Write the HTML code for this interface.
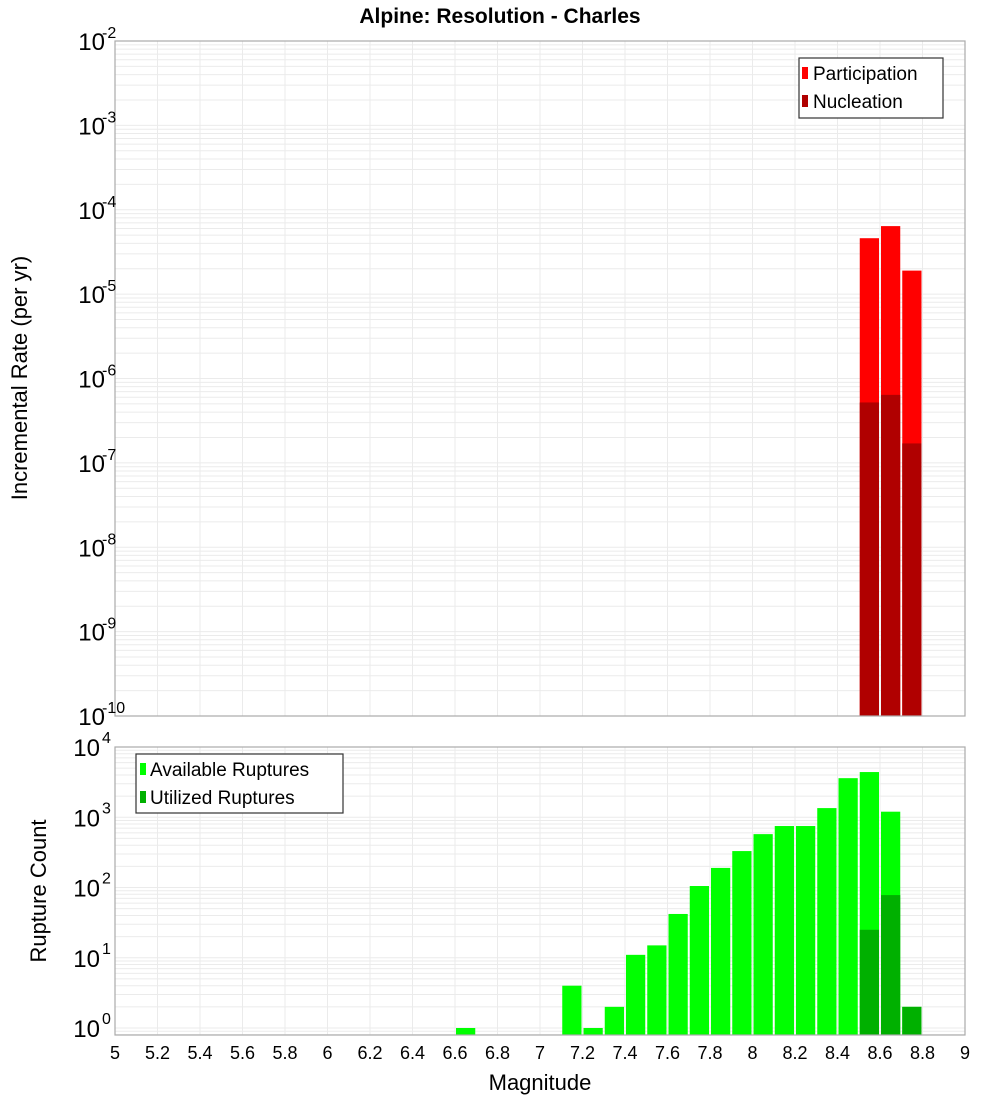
<!DOCTYPE html>
<html><head><meta charset="utf-8"><style>
html,body{margin:0;padding:0;background:#fff;}
svg{display:block;font-family:"Liberation Sans","DejaVu Sans",sans-serif;}
</style></head><body>
<svg id="chart" width="1000" height="1100" viewBox="0 0 1000 1100">
<text x="500" y="23" text-anchor="middle" font-size="21" font-weight="bold">Alpine: Resolution - Charles</text>
<g id="top"></g>
<g id="bot"></g>
<text transform="translate(27,378) rotate(-90)" text-anchor="middle" font-size="22">Incremental Rate (per yr)</text>
<text transform="translate(46,891) rotate(-90)" text-anchor="middle" font-size="22">Rupture Count</text>
<text x="540" y="1090" text-anchor="middle" font-size="22">Magnitude</text>
<g>
<rect x="799" y="58" width="144" height="60" fill="#fff" stroke="#333" stroke-width="1.2"/>
<rect x="802" y="67" width="6" height="12" fill="#ff0000"/>
<text x="813" y="80" font-size="19">Participation</text>
<rect x="802" y="95" width="6" height="12" fill="#b00000"/>
<text x="813" y="108" font-size="19">Nucleation</text>
</g>
<g>
<rect x="136" y="754" width="207" height="59" fill="#fff" stroke="#333" stroke-width="1.2"/>
<rect x="140" y="763" width="6" height="12" fill="#00ff00"/>
<text x="150" y="776" font-size="19">Available Ruptures</text>
<rect x="140" y="791" width="6" height="12" fill="#00b000"/>
<text x="150" y="804" font-size="19">Utilized Ruptures</text>
</g>
</svg>
<script>
const topMags = [8.5, 8.6, 8.7];
const participation = [4.6e-5, 6.4e-5, 1.9e-5];
const nucleation = [5.2e-7, 6.4e-7, 1.7e-7];
const botMags = [6.6, 7.1, 7.2, 7.3, 7.4, 7.5, 7.6, 7.7, 7.8, 7.9, 8.0, 8.1, 8.2, 8.3, 8.4, 8.5, 8.6, 8.7];
const available = [1, 4, 1, 2, 11, 15, 42, 105, 190, 330, 575, 750, 750, 1350, 3600, 4400, 1200, 2];
const utilMags = [8.5, 8.6, 8.7];
const utilized = [25, 78, 2];
const xTicks = ["5","5.2","5.4","5.6","5.8","6","6.2","6.4","6.6","6.8","7","7.2","7.4","7.6","7.8","8","8.2","8.4","8.6","8.8","9"];
const topExps = [-2,-3,-4,-5,-6,-7,-8,-9,-10];
const botExps = [4,3,2,1,0];

const NS = "http://www.w3.org/2000/svg";
const X0 = 115, X1 = 965;
function xs(m){ return X0 + (m - 5) / 4 * (X1 - X0); }
const T = {top:41, bot:716, lmax:-2, lmin:-10};
const B = {top:747, bot:1035, y4:747, y0:1028};
function yTop(v){ return T.top + (T.lmax - Math.log10(v)) / (T.lmax - T.lmin) * (T.bot - T.top); }
function yBot(v){ return B.y0 - Math.log10(v) * (B.y0 - B.y4) / 4; }
function el(parent, tag, attrs, name){
  const e = document.createElementNS(NS, tag);
  for (const k in attrs) e.setAttribute(k, attrs[k]);
  
  
  parent.appendChild(e); return e;
}
function grid(g, y0, y1, yfn, lmin, lmax){
  el(g,'rect',{x:X0,y:y0,width:X1-X0,height:y1-y0,fill:'#fff'},'plot-background');
  for (let d = Math.floor(lmin); d < lmax; d++){
    for (let k = 1; k < 10; k++){
      const v = k * Math.pow(10, d);
      const y = yfn(v);
      if (y < y0 || y > y1) continue;
      el(g,'line',{x1:X0,x2:X1,y1:y,y2:y,stroke:'#ebebeb','stroke-width':1},'y-gridline');
    }
  }
  for (let i = 0; i < xTicks.length; i++){
    const x = xs(parseFloat(xTicks[i]));
    el(g,'line',{x1:x,x2:x,y1:y0,y2:y1,stroke:'#ebebeb','stroke-width':1},'x-gridline');
  }
}
function bar(g, m, v, yfn, ybase, color, name){
  const x = xs(m) + 1, w = xs(m + 0.1) - xs(m) - 2;
  const y = yfn(v);
  el(g,'rect',{x:x,y:y,width:w,height:ybase - y,fill:color},name);
}
const gt = document.getElementById('top');
grid(gt, T.top, T.bot, yTop, -10, -2);
for (let i = 0; i < topMags.length; i++) bar(gt, topMags[i], participation[i], yTop, T.bot, '#ff0000', 'participation-bar');
for (let i = 0; i < topMags.length; i++) bar(gt, topMags[i], nucleation[i], yTop, T.bot, '#b00000', 'nucleation-bar');
el(gt,'rect',{x:X0,y:T.top,width:X1-X0,height:T.bot-T.top,fill:'none',stroke:'#aaa','stroke-width':1.2},'top-plot-frame');
for (const e of topExps){
  const y = yTop(Math.pow(10, e));
  const t = el(gt,'text',{x:X0-10,y:y+9,'text-anchor':'end','font-size':24},'top-y-tick-label');
  t.textContent = '10';
  const s = el(gt,'text',{x:X0-12,y:y-3,'font-size':16},'top-y-tick-exponent');
  s.textContent = String(e);
  s.setAttribute('x', X0 - 13);
}
const gb = document.getElementById('bot');
grid(gb, B.top, B.bot, yBot, -1, 4);
for (let i = 0; i < botMags.length; i++) bar(gb, botMags[i], available[i], yBot, B.bot, '#00ff00', 'available-bar');
for (let i = 0; i < utilMags.length; i++) bar(gb, utilMags[i], utilized[i], yBot, B.bot, '#00b000', 'utilized-bar');
el(gb,'rect',{x:X0,y:B.top,width:X1-X0,height:B.bot-B.top,fill:'none',stroke:'#aaa','stroke-width':1.2},'bottom-plot-frame');
for (const e of botExps){
  const y = yBot(Math.pow(10, e));
  const t = el(gb,'text',{x:X0-15,y:y+9,'text-anchor':'end','font-size':24},'bottom-y-tick-label');
  t.textContent = '10';
  const s = el(gb,'text',{x:X0-13,y:y-4,'font-size':16},'bottom-y-tick-exponent');
  s.textContent = String(e);
}
for (const lab of xTicks){
  const t = el(gb,'text',{x:xs(parseFloat(lab)),y:1059,'text-anchor':'middle','font-size':18},'x-tick-label');
  t.textContent = lab;
}
</script>
</body></html>
